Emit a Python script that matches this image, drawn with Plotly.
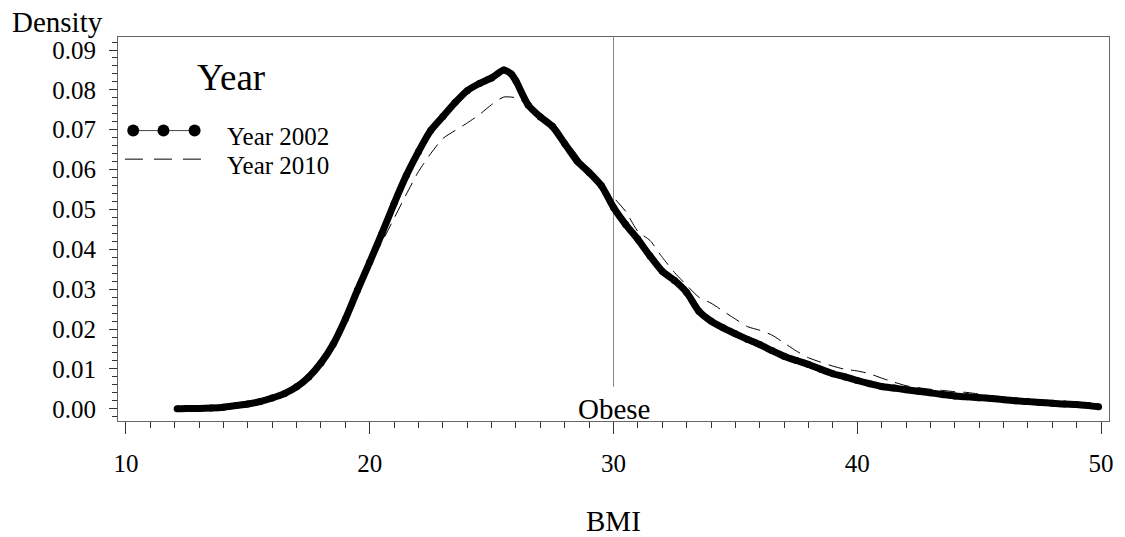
import plotly.graph_objects as go

# ---------------- data ----------------
bmi_2002 = [12.1, 12.5, 13.0, 13.5, 14.0, 14.5, 15.0, 15.5, 16.0, 16.5, 17.0, 17.5, 18.0, 18.5,
            19.0, 19.5, 20.0, 20.5, 21.0, 21.5, 22.0, 22.5, 23.0, 23.5, 24.0, 24.5, 25.0, 25.5,
            25.8, 26.0, 26.5, 27.0, 27.5, 28.0, 28.5, 29.0, 29.5, 30.0, 30.5, 31.0, 31.5, 32.0,
            32.5, 33.0, 33.5, 34.0, 34.5, 35.0, 35.5, 36.0, 36.5, 37.0, 37.5, 38.0, 38.5, 39.0,
            39.5, 40.0, 40.5, 41.0, 41.5, 42.0, 42.5, 43.0, 43.5, 44.0, 44.5, 45.0, 45.5, 46.0,
            46.5, 47.0, 47.5, 48.0, 48.5, 49.0, 49.5, 49.9]
dens_2002 = [0.0000, 0.0001, 0.0001, 0.0002, 0.0004, 0.0008, 0.0012, 0.0018, 0.0027, 0.0038,
             0.0055, 0.0080, 0.0115, 0.0162, 0.0225, 0.0298, 0.0368, 0.0440, 0.0515, 0.0585,
             0.0645, 0.0698, 0.0733, 0.0768, 0.0798, 0.0816, 0.0830, 0.0850, 0.0840, 0.0822,
             0.0762, 0.0732, 0.0708, 0.0665, 0.0622, 0.0593, 0.0560, 0.0505, 0.0462, 0.0425,
             0.0383, 0.0345, 0.0322, 0.0292, 0.0245, 0.0220, 0.0203, 0.0188, 0.0174, 0.0161,
             0.0146, 0.0132, 0.0121, 0.0111, 0.0099, 0.0088, 0.0080, 0.0071, 0.0063, 0.0056,
             0.0052, 0.0048, 0.0044, 0.0040, 0.0036, 0.0032, 0.0030, 0.0028, 0.0026, 0.0023,
             0.0020, 0.0018, 0.0016, 0.0014, 0.0012, 0.0011, 0.0008, 0.0005]

bmi_2010 = [12.1, 12.5, 13.0, 13.5, 14.0, 14.5, 15.0, 15.5, 16.0, 16.5, 17.0, 17.5, 18.0, 18.5,
            19.0, 19.5, 20.0, 20.5, 21.0, 21.5, 22.0, 22.5, 23.0, 23.5, 24.0, 24.5, 25.0, 25.5,
            26.0, 26.5, 27.0, 27.5, 28.0, 28.5, 29.0, 29.5, 30.0, 30.5, 31.0, 31.5, 32.0, 32.5,
            33.0, 33.5, 34.0, 34.5, 35.0, 35.5, 36.0, 36.5, 37.0, 37.5, 38.0, 38.5, 39.0, 39.5,
            40.0, 40.5, 41.0, 41.5, 42.0, 42.5, 43.0, 43.5, 44.0, 44.5, 45.0, 45.5, 46.0, 46.5,
            47.0, 47.5, 48.0, 48.5, 49.0, 49.5, 49.9]
dens_2010 = [0.0000, 0.0001, 0.0001, 0.0002, 0.0004, 0.0007, 0.0011, 0.0017, 0.0026, 0.0037,
             0.0053, 0.0078, 0.0112, 0.0158, 0.0220, 0.0290, 0.0358, 0.0418, 0.0478, 0.0538,
             0.0595, 0.0640, 0.0678, 0.0698, 0.0717, 0.0738, 0.0763, 0.0782, 0.0780, 0.0762,
             0.0732, 0.0706, 0.0675, 0.0637, 0.0590, 0.0560, 0.0530, 0.0495, 0.0445, 0.0422,
             0.0380, 0.0342, 0.0310, 0.0280, 0.0265, 0.0245, 0.0225, 0.0206, 0.0197, 0.0185,
             0.0165, 0.0145, 0.0128, 0.0117, 0.0107, 0.0099, 0.0095, 0.0088, 0.0077, 0.0067,
             0.0058, 0.0053, 0.0049, 0.0046, 0.0043, 0.0041, 0.0037, 0.0032, 0.0026, 0.0021,
             0.0018, 0.0016, 0.0014, 0.0012, 0.0011, 0.0008, 0.0005]

x_ticks = [10, 20, 30, 40, 50]
y_ticks = [0.00, 0.01, 0.02, 0.03, 0.04, 0.05, 0.06, 0.07, 0.08, 0.09]
obese_cut = 30
obese_line_start = 0.0055
series_names = ["Year 2002", "Year 2010"]
legend_title = "Year"

# ---------------- layout geometry ----------------
W, H = 1125, 537
L, R, T, B = 118, 1114, 37, 421.5
FONT = "Liberation Serif, Times New Roman, serif"
X_RANGE = [10 - 8 / 24.5, 50 + 8 / 24.5]
Y_RANGE = [-0.00306, 0.09326]


def px(xp):
    return (xp - L) / (R - L)


def py(yp):
    return (B - yp) / (B - T)


fig = go.Figure()
fig.add_trace(go.Scatter(
    x=bmi_2002, y=dens_2002, mode="lines+markers", name=series_names[0],
    line=dict(color="black", width=7, shape="spline", smoothing=0.6),
    marker=dict(color="black", size=7), showlegend=False))
fig.add_trace(go.Scatter(
    x=bmi_2010, y=dens_2010, mode="lines", name=series_names[1],
    line=dict(color="black", width=1, dash="15px,8px", shape="spline", smoothing=0.6),
    showlegend=False))

shapes = [
    # Obese reference line
    dict(type="line", xref="x", yref="y", x0=obese_cut, x1=obese_cut,
         y0=obese_line_start, y1=Y_RANGE[1], line=dict(color="#888888", width=1), layer="below"),
    # legend sample: 2002 line with three dots
    dict(type="line", xref="paper", yref="paper", x0=px(133), x1=px(196),
         y0=py(130.7), y1=py(130.7), line=dict(color="#444", width=1)),
]
for cx in (133.3, 163.7, 195.0):
    r = 6
    shapes.append(dict(type="circle", xref="paper", yref="paper",
                       x0=px(cx - r), x1=px(cx + r), y0=py(130.7 + r), y1=py(130.7 - r),
                       fillcolor="black", line=dict(color="black", width=0)))
shapes.append(dict(type="line", xref="paper", yref="paper", x0=px(125), x1=px(202),
                   y0=py(159.3), y1=py(159.3),
                   line=dict(color="black", width=1, dash="18px,11px")))

annotations = [
    dict(text="Obese", x=obese_cut, xref="x", y=py(428), yref="paper",
         xanchor="center", yanchor="bottom", showarrow=False,
         font=dict(family=FONT, size=29, color="black")),
    dict(text="Density", x=px(57), xref="paper", y=py(22), yref="paper",
         xanchor="center", yanchor="middle", showarrow=False,
         font=dict(family=FONT, size=29, color="black")),
    dict(text="BMI", x=0.5, xref="paper", y=py(522), yref="paper",
         xanchor="center", yanchor="middle", showarrow=False,
         font=dict(family=FONT, size=29, color="black")),
    dict(text=legend_title, x=px(231.5), xref="paper", y=py(78), yref="paper",
         xanchor="center", yanchor="middle", showarrow=False,
         font=dict(family=FONT, size=37, color="black")),
    dict(text=series_names[0], x=px(226), xref="paper", y=py(136.5), yref="paper",
         xanchor="left", yanchor="middle", showarrow=False,
         font=dict(family=FONT, size=25, color="black")),
    dict(text=series_names[1], x=px(226), xref="paper", y=py(165.5), yref="paper",
         xanchor="left", yanchor="middle", showarrow=False,
         font=dict(family=FONT, size=25, color="black")),
]

fig.update_layout(
    width=W, height=H,
    margin=dict(l=L, r=W - R, t=T, b=H - B, pad=0),
    paper_bgcolor="white", plot_bgcolor="white",
    font=dict(family=FONT, size=25, color="black"),
    annotations=annotations, shapes=shapes, showlegend=False,
    xaxis=dict(range=X_RANGE, tickvals=x_ticks,
               ticktext=[str(v) for v in x_ticks],
               showgrid=False, zeroline=False, showline=True, mirror=True,
               linecolor="#666", linewidth=1,
               ticks="outside", ticklen=12, tickcolor="#333", tickwidth=1,
               ticklabelstandoff=8,
               tickfont=dict(family=FONT, size=25, color="black"),
               minor=dict(ticks="outside", dtick=1, tick0=0, ticklen=6,
                          tickcolor="#333", tickwidth=1, showgrid=False)),
    yaxis=dict(range=Y_RANGE, tickvals=y_ticks,
               ticktext=["%.2f" % v for v in y_ticks],
               showgrid=False, zeroline=False, showline=True, mirror=True,
               linecolor="#666", linewidth=1,
               ticks="outside", ticklen=8, tickcolor="#333", tickwidth=1,
               ticklabelstandoff=8,
               tickfont=dict(family=FONT, size=25, color="black"),
               minor=dict(ticks="outside", dtick=0.002, tick0=0, ticklen=5,
                          tickcolor="#333", tickwidth=1, showgrid=False)),
)

fig.write_html("out.html")
